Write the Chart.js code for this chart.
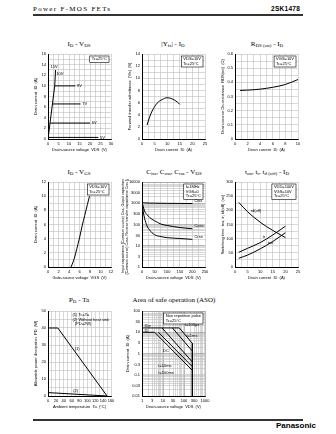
<!DOCTYPE html>
<html>
<head>
<meta charset="utf-8">
<script src="https://cdn.jsdelivr.net/npm/chart.js@4.4.1/dist/chart.umd.min.js"></script>
<style>
  body { margin:0; width:336px; height:434px; background:#fff; position:relative; overflow:hidden; font-family:"Liberation Serif", serif; }
  .hdr { position:absolute; top:5px; font-size:7px; color:#000; }
  .rule { position:absolute; left:33px; width:270px; height:2px; background:#333; }
  .ttl { position:absolute; width:120px; margin-left:-60px; text-align:center; font-size:7px; color:#000; white-space:nowrap; }
  .ttl sub { font-size:5px; vertical-align:-1px; }
  canvas { position:absolute; }
</style>
</head>
<body>
<div class="hdr" style="left:33px;letter-spacing:1.3px;">Power F-MOS FETs</div>
<div class="hdr" style="left:271px;font-weight:bold;font-family:'Liberation Sans';font-size:6.5px;letter-spacing:0.3px;">2SK1478</div>
<div class="rule" style="top:14px;"></div>

<div class="ttl" style="left:79px;top:40px;">I<sub>D</sub> - V<sub>DS</sub></div>
<div class="ttl" style="left:173px;top:40px;">|Y<sub>fs</sub>| - I<sub>D</sub></div>
<div class="ttl" style="left:267px;top:40px;">R<sub>DS (on)</sub> - I<sub>D</sub></div>
<div class="ttl" style="left:79px;top:168px;">I<sub>D</sub> - V<sub>GS</sub></div>
<div class="ttl" style="left:174px;top:168px;">C<sub>iss</sub>, C<sub>oss</sub>, C<sub>rss</sub> - V<sub>DS</sub></div>
<div class="ttl" style="left:267px;top:168px;">t<sub>on</sub>, t<sub>r</sub>, t<sub>d (off)</sub> - I<sub>D</sub></div>
<div class="ttl" style="left:79px;top:296px;">P<sub>D</sub> - Ta</div>
<div class="ttl" style="left:174px;top:296px;">Area of safe operation (ASO)</div>

<div class="rule" style="top:419px;"></div>
<div style="position:absolute;left:276px;top:421px;font-family:'Liberation Sans';font-weight:bold;font-size:8px;color:#000;">Panasonic</div>

<script>
// I_D - V_DS
const vdsRiseX = [0, 3.2, 3.6];
const vdsRiseY = [0, 10, 13];
const vdsFlatId = [10, 6.6, 3, 0.3];
const vdsFlatFrom = [3.2, 2.1, 1.0, 0.1];
const vdsFlatTo = [13, 15.5, 20, 24];
const vdsFlatVgs = ['8V', '7V', '6V', '5V'];

// |Yfs| - I_D
const yfsId = [2, 3, 4, 6, 8, 10, 12, 14, 15];
const yfsS = [2.3, 3.6, 4.6, 5.9, 6.5, 6.8, 6.6, 6.1, 5.7];

// R_DS(on) - I_D
const rdsId = [0.8, 2, 4, 6, 8, 10];
const rdsOhm = [0.343, 0.345, 0.352, 0.365, 0.385, 0.42];

// I_D - V_GS
const vgsV = [4.4, 5, 5.5, 6, 6.5, 7, 7.5, 7.9];
const vgsId = [0, 1.2, 2.6, 4.1, 5.8, 7.3, 8.8, 10];

// Ciss, Coss, Crss - V_DS
const capV = [0, 5, 10, 20, 30, 50, 75, 100, 150, 200];
const ciss = [1100, 1070, 1050, 1030, 1020, 1010, 1000, 990, 980, 970];
const coss = [1100, 700, 430, 290, 215, 150, 105, 90, 72, 63];
const crss = [1100, 400, 200, 85, 55, 33, 27, 24, 22, 20];

// ton, tr, td(off) - I_D
const swId = [1.5, 5, 10, 15, 20];
const tdOff = [228, 195, 158, 129, 104];
const tRise = [52, 66, 86, 113, 144];
const tOn = [31, 42, 64, 90, 121];

// P_D - Ta
const taTc = [0, 25, 150];
const pdTc = [40, 40, 0];
const taNoHs = [0, 150];
const pdNoHs = [2, 0];

// ASO
const asoIdpV = [1, 60],   asoIdpA = [16, 16];
const asoIdV = [1, 4],     asoIdA = [10, 10];
const asoDcV = [4, 250],   asoDcA = [10, 0.16];
const aso100msV = [6, 250], aso100msA = [10, 0.24];
const aso10msV = [9, 250], aso10msA = [16, 0.4];
const aso1msV = [28, 250], aso1msA = [16, 1.3];
const aso100usV = [60, 250], aso100usA = [16, 3];
const asoVdssV = [250, 250], asoVdssA = [3, 0.01];

Chart.defaults.font.family = '"Liberation Sans", Arial, sans-serif';
Chart.defaults.color = '#000';

const GRID = '#bdbdbd';
const PW = 63, PH = 85;

function fmt(v) { return String(parseFloat(v.toFixed(3))); }

function linScale(min, max, step, every, title) {
  return {
    type: 'linear', min: min, max: max,
    ticks: { stepSize: step, autoSkip: false, maxRotation: 0, padding: 2, font: { size: 4 },
      callback: v => Math.abs(v / every - Math.round(v / every)) < 1e-6 ? fmt(v) : '' },
    grid: { color: GRID, lineWidth: 0.6, drawTicks: false },
    border: { color: '#000', width: 1 },
    title: { display: true, text: title, font: { size: 4 }, padding: 1 }
  };
}

function logScale(min, max, shown, title) {
  const isShown = v => shown.some(s => Math.abs(s - v) / s < 1e-6);
  return {
    type: 'logarithmic', min: min, max: max,
    afterBuildTicks: s => {
      const t = [];
      for (let d = min; d < max * 0.999; d *= 10)
        for (let k = 1; k < 10; k++) t.push({ value: +(d * k).toPrecision(6) });
      t.push({ value: max });
      s.ticks = t;
    },
    ticks: { autoSkip: false, maxRotation: 0, padding: 2, font: { size: 4 },
      callback: v => isShown(v) ? String(v) : '' },
    grid: { color: c => (c.tick && isShown(c.tick.value) && String(c.tick.value)[0] === '1') ? '#8a8a8a' : GRID,
      lineWidth: 0.6, drawTicks: false },
    border: { color: '#000', width: 1 },
    title: { display: true, text: title, font: { size: 4 }, padding: 1 }
  };
}

function line(xs, ys, smooth) {
  return { data: xs.map((x, i) => ({ x: x, y: ys[i] })), borderColor: '#000', borderWidth: 1,
    pointRadius: 0, tension: smooth ? 0.4 : 0, cubicInterpolationMode: smooth ? 'monotone' : 'default', fill: false };
}

const notesPlugin = {
  id: 'notes',
  afterDraw(chart, args, o) {
    const ctx = chart.ctx, a = chart.chartArea, sx = chart.scales.x, sy = chart.scales.y;
    ctx.save();
    ctx.font = '4px "Liberation Sans"';
    ctx.textBaseline = 'middle';
    if (o.box) {
      const w = Math.max(...o.box.map(t => ctx.measureText(t).width)) + 4;
      const h = o.box.length * 4.5 + 2;
      const bx = a.right - w - 2, by = a.top + 2;
      ctx.fillStyle = '#fff'; ctx.fillRect(bx, by, w, h);
      ctx.strokeStyle = '#000'; ctx.lineWidth = 0.6; ctx.strokeRect(bx, by, w, h);
      ctx.fillStyle = '#000'; ctx.textAlign = 'left';
      o.box.forEach((t, i) => ctx.fillText(t, bx + 2, by + 3.3 + i * 4.5));
    }
    ctx.fillStyle = '#000';
    (o.labels || []).forEach(l => {
      ctx.textAlign = l.align || 'left';
      ctx.fillText(l.text, sx.getPixelForValue(l.x), sy.getPixelForValue(l.y));
    });
    ctx.restore();
  }
};

function plot(left, top, yw, xs, ys, datasets, notes) {
  const cv = document.createElement('canvas');
  const w = yw + PW + 6, h = 3 + PH + 14;
  cv.width = w; cv.height = h;
  cv.style.left = (left - yw) + 'px';
  cv.style.top = (top - 3) + 'px';
  document.body.appendChild(cv);
  xs.afterFit = s => { s.height = 14; s.paddingLeft = 0; s.paddingRight = 0; };
  ys.afterFit = s => { s.width = yw; s.paddingTop = 0; s.paddingBottom = 0; };
  return new Chart(cv, {
    type: 'line',
    data: { datasets: datasets },
    options: {
      responsive: false, animation: false,
      layout: { padding: { top: 3, right: 6, left: 0, bottom: 0 } },
      plugins: { legend: { display: false }, tooltip: { enabled: false }, notes: notes },
      scales: { x: xs, y: ys }
    },
    plugins: [notesPlugin]
  });
}

// 1. I_D - V_DS
const c1sets = [line(vdsRiseX, vdsRiseY, false)];
const c1labels = [{ x: 1.2, y: 13.6, text: '15V' }, { x: 4.0, y: 12.2, text: '10V' }];
vdsFlatId.forEach((id, i) => {
  c1sets.push(line([vdsFlatFrom[i], vdsFlatTo[i]], [id, id], false));
  c1labels.push({ x: vdsFlatTo[i] + 0.8, y: id, text: vdsFlatVgs[i] });
});
plot(48, 54, 16,
  linScale(0, 30, 2.5, 5, 'Drain-source voltage  VDS  (V)'),
  linScale(0, 16, 1, 2, 'Drain current  ID  (A)'),
  c1sets, { box: ['Tc=25°C'], labels: c1labels });

// 2. |Yfs| - I_D
plot(142, 54, 16,
  linScale(0, 25, 2.5, 5, 'Drain current  ID  (A)'),
  linScale(0, 14, 1, 2, 'Forward transfer admittance  |Yfs|  (S)'),
  [line(yfsId, yfsS, true)], { box: ['VDS=10V', 'Tc=25°C'] });

// 3. R_DS(on) - I_D
plot(235, 54, 16,
  linScale(0, 10, 1, 2, 'Drain current  ID  (A)'),
  linScale(0, 0.6, 0.05, 0.1, 'Drain-source On-resistance  RDS(on)  (Ω)'),
  [line(rdsId, rdsOhm, true)], { box: ['VGS=10V', 'Tc=25°C'] });

// 4. I_D - V_GS
plot(48, 182, 16,
  linScale(0, 12, 1, 2, 'Gate-source voltage  VGS  (V)'),
  linScale(0, 12, 1, 2, 'Drain current  ID  (A)'),
  [line(vgsV, vgsId, true)], { box: ['VDS=10V', 'Tc=25°C'] });

// 5. Capacitance
const c5y = logScale(1, 10000, [1, 3, 10, 30, 100, 300, 1000, 3000, 10000],
  ['Input capacitance (Common source) Ciss, Output capacitance', '(Common source) Coss, Reverse transfer capacitance Crss (pF)']);
c5y.title.font = { size: 3.5 };
plot(142, 182, 22,
  linScale(0, 250, 25, 50, 'Drain-source voltage  VDS  (V)'), c5y,
  [line(capV, ciss, true), line(capV, coss, true), line(capV, crss, true)],
  { box: ['f=1MHz', 'VGS=0', 'Tc=25°C'],
    labels: [{ x: 208, y: 1250, text: 'Ciss' }, { x: 208, y: 85, text: 'Coss' }, { x: 208, y: 26, text: 'Crss' }] });

// 6. Switching time
plot(235, 182, 16,
  linScale(0, 25, 2.5, 5, 'Drain current  ID  (A)'),
  linScale(0, 300, 25, 50, 'Switching time  ton, tr, td(off)  (ns)'),
  [line(swId, tdOff, true), line(swId, tRise, true), line(swId, tOn, true)],
  { box: ['VDD=100V', 'VGS=10V', 'Tc=25°C'],
    labels: [{ x: 6.3, y: 198, text: 'td(off)' }, { x: 11, y: 106, text: 'tr' }, { x: 13, y: 86, text: 'ton' }] });

// 7. P_D - Ta
plot(48, 311, 16,
  linScale(0, 160, 10, 20, 'Ambient temperature  Ta  (°C)'),
  linScale(0, 50, 5, 10, 'Allowable power dissipation  PD  (W)'),
  [line(taTc, pdTc, false), line(taNoHs, pdNoHs, false)],
  { labels: [{ x: 62, y: 47.5, text: '(1) Tc=Ta' }, { x: 62, y: 45, text: '(2) Without heat sink' },
    { x: 68, y: 42.5, text: '(PD=2W)' }, { x: 68, y: 28, text: '(1)' }, { x: 64, y: 2.8, text: '(2)' }] });

// 8. ASO
plot(142, 311, 18,
  logScale(1, 1000, [1, 3, 10, 30, 100, 300, 1000], 'Drain-source voltage  VDS  (V)'),
  logScale(0.01, 100, [0.01, 0.03, 0.1, 0.3, 1, 3, 10, 30, 100], 'Drain current  ID  (A)'),
  [line(asoIdpV, asoIdpA), line(asoIdV, asoIdA), line(asoDcV, asoDcA), line(aso100msV, aso100msA),
   line(aso10msV, aso10msA), line(aso1msV, aso1msA), line(aso100usV, aso100usA), line(asoVdssV, asoVdssA)],
  { box: ['Non repetitive pulse', 'Tc=25°C'],
    labels: [{ x: 1.3, y: 20, text: 'IDp' }, { x: 1.3, y: 12, text: 'ID' }, { x: 110, y: 22, text: 't=100μs' },
      { x: 130, y: 7, text: 't=1ms' }, { x: 10, y: 1.4, text: 'DC' }, { x: 6, y: 0.27, text: 't=10ms' },
      { x: 6, y: 0.12, text: 't=100ms' }] });
</script>
</body>
</html>
